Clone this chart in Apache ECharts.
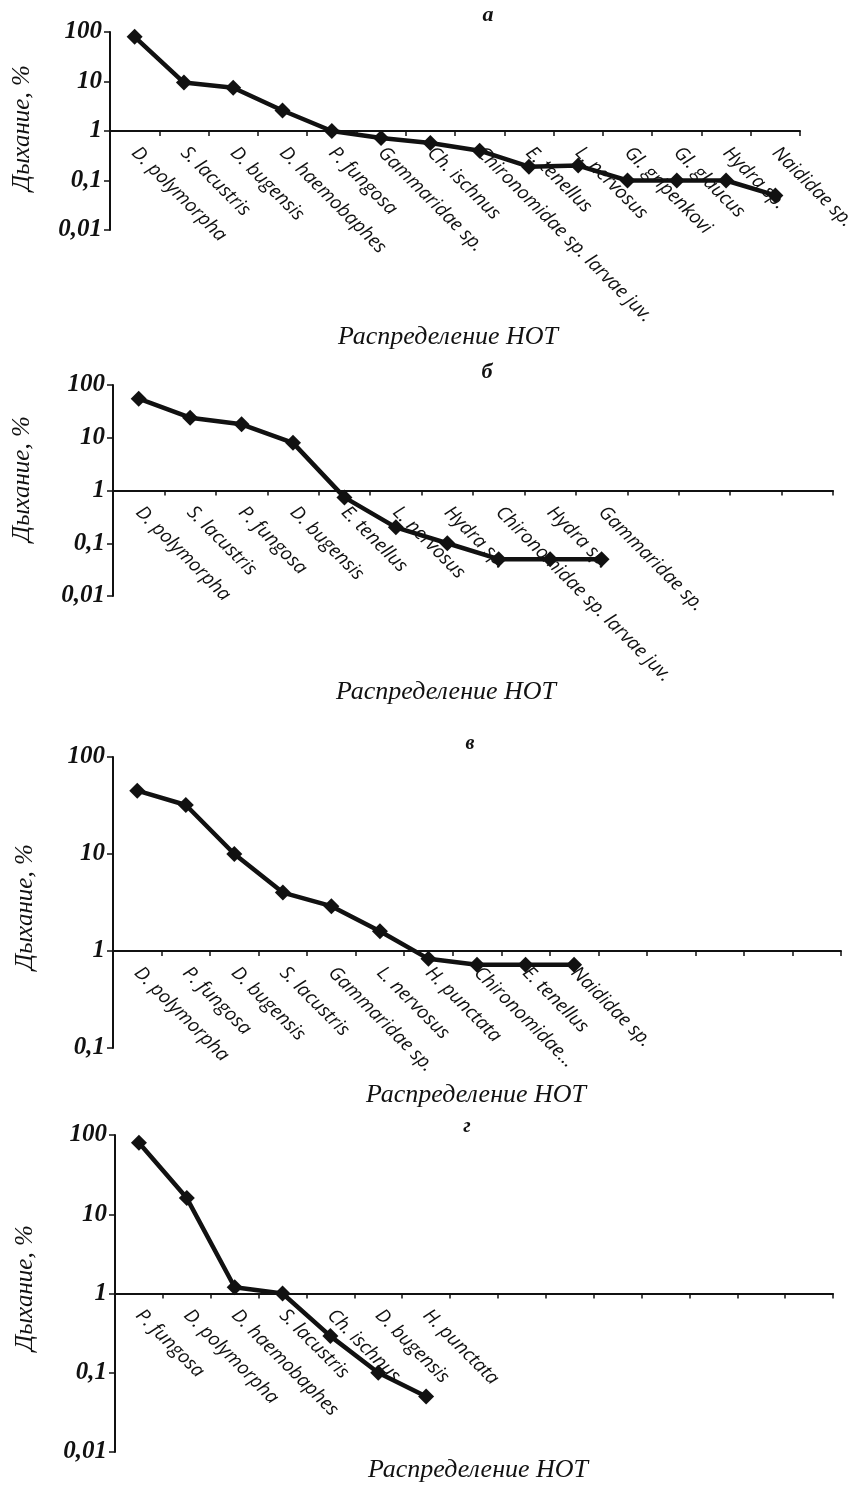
<!DOCTYPE html>
<html>
<head>
<meta charset="utf-8">
<script src="https://cdn.jsdelivr.net/npm/echarts@6/dist/echarts.min.js"></script>
<style>
  html, body { margin: 0; padding: 0; background: #fff; }
  #chart { width: 858px; height: 1488px; }
</style>
</head>
<body>
<div id="chart"></div>
<script>
// а
var catsA = ['D. polymorpha', 'S. lacustris', 'D. bugensis', 'D. haemobaphes', 'P. fungosa', 'Gammaridae sp.',
  'Ch. ischnus', 'Chironomidae sp. larvae juv.', 'E. tenellus', 'L. nervosus', 'Gl. gripenkovi', 'Gl. glaucus',
  'Hydra sp.', 'Naididae sp.']
var valsA = [80, 9.5, 7.5, 2.6, 1, 0.72, 0.57, 0.4, 0.19, 0.2, 0.1, 0.1, 0.1, 0.05]

// б (последние 4 позиции оси пустые)
var catsB = ['D. polymorpha', 'S. lacustris', 'P. fungosa', 'D. bugensis', 'E. tenellus', 'L. nervosus',
  'Hydra sp.', 'Chironomidae sp. larvae juv.', 'Hydra sp.', 'Gammaridae sp.', '', '', '', '']
var valsB = [55, 24, 18, 8, 0.74, 0.2, 0.1, 0.05, 0.05, 0.05]

// в
var catsC = ['D. polymorpha', 'P. fungosa', 'D. bugensis', 'S. lacustris', 'Gammaridae sp.', 'L. nervosus',
  'H. punctata', 'Chironomidae...', 'E. tenellus', 'Naididae sp.', '', '', '', '', '']
var valsC = [45, 32, 10, 4, 2.9, 1.6, 0.83, 0.72, 0.72, 0.72]

// г
var catsD = ['P. fungosa', 'D. polymorpha', 'D. haemobaphes', 'S. lacustris', 'Ch. ischnus', 'D. bugensis',
  'H. punctata', '', '', '', '', '', '', '', '']
var valsD = [80, 16, 1.2, 1, 0.29, 0.1, 0.05]

var yTitle = 'Дыхание, %'
var xTitle = 'Распределение НОТ'

var catFont = '"Open Sans", sans-serif'
var numFont = '"Liberation Serif", serif'

// положение панелей
var panels = [
  { cats: catsA, vals: valsA, left: 110, top: 32, width: 697, height: 198, min: 0.01, max: 100 },
  { cats: catsB, vals: valsB, left: 113, top: 385, width: 720, height: 211, min: 0.01, max: 100 },
  { cats: catsC, vals: valsC, left: 113, top: 757, width: 728, height: 291, min: 0.1, max: 100 },
  { cats: catsD, vals: valsD, left: 115, top: 1135, width: 718, height: 317, min: 0.01, max: 100 }
]

var grids = [], xAxes = [], yAxes = [], series = []

panels.forEach(function (p, i) {
  // ось X проходит через 1
  var frac = Math.log10(p.max) / (Math.log10(p.max) - Math.log10(p.min))
  var offset = -(p.height * (1 - frac))
  grids.push({ left: p.left, top: p.top, width: p.width, height: p.height })
  xAxes.push({
    type: 'category',
    gridIndex: i,
    data: p.cats,
    offset: offset,
    axisLine: { lineStyle: { color: '#111', width: 2 } },
    axisTick: { show: true, length: 5, lineStyle: { color: '#111', width: 1.5 } },
    axisLabel: {
      interval: 0,
      rotate: -45,
      margin: 19,
      color: '#111',
      fontFamily: catFont,
      fontStyle: 'italic',
      fontSize: 19
    },
    splitLine: { show: false }
  })
  yAxes.push({
    type: 'log',
    logBase: 10,
    gridIndex: i,
    min: p.min,
    max: p.max,
    axisLine: { show: true, lineStyle: { color: '#111', width: 2 } },
    axisTick: { show: true, length: 6, lineStyle: { color: '#111', width: 1.5 } },
    axisLabel: {
      color: '#111',
      fontFamily: numFont,
      fontStyle: 'italic',
      fontWeight: 'bold',
      fontSize: 25,
      margin: 8,
      formatter: function (v) { return String(v).replace('.', ',') }
    },
    splitLine: { show: false },
    minorTick: { show: false }
  })
  series.push({
    type: 'line',
    xAxisIndex: i,
    yAxisIndex: i,
    data: p.vals,
    symbol: 'diamond',
    symbolSize: 16,
    itemStyle: { color: '#111' },
    lineStyle: { color: '#111', width: 4.5 },
    animation: false
  })
})

function label(text, x, y, size, rot) {
  return {
    type: 'text',
    x: x,
    y: y,
    rotation: rot || 0,
    style: {
      text: text,
      fill: '#111',
      font: 'italic ' + size + 'px "Liberation Serif", serif',
      align: 'center',
      verticalAlign: 'middle'
    }
  }
}

var graphics = [
  // буквы панелей
  { type: 'text', x: 488, y: 15, style: { text: 'а', fill: '#111', font: 'italic bold 22px "Liberation Serif", serif', align: 'center', verticalAlign: 'middle' } },
  { type: 'text', x: 487, y: 372, style: { text: 'б', fill: '#111', font: 'italic bold 22px "Liberation Serif", serif', align: 'center', verticalAlign: 'middle' } },
  { type: 'text', x: 470, y: 744, style: { text: 'в', fill: '#111', font: 'italic bold 20px "Liberation Serif", serif', align: 'center', verticalAlign: 'middle' } },
  { type: 'text', x: 467, y: 1127, style: { text: 'г', fill: '#111', font: 'italic bold 20px "Liberation Serif", serif', align: 'center', verticalAlign: 'middle' } },
  // подписи осей
  label(xTitle, 448, 337, 26),
  label(xTitle, 446, 692, 26),
  label(xTitle, 476, 1095, 26),
  label(xTitle, 478, 1470, 26),
  label(yTitle, 22, 128, 25, Math.PI / 2),
  label(yTitle, 22, 479, 25, Math.PI / 2),
  label(yTitle, 25, 907, 25, Math.PI / 2),
  label(yTitle, 25, 1288, 25, Math.PI / 2)
]

var myChart = echarts.init(document.getElementById('chart'))
myChart.setOption({
  backgroundColor: '#fff',
  animation: false,
  grid: grids,
  xAxis: xAxes,
  yAxis: yAxes,
  series: series,
  graphic: graphics
})
</script>
</body>
</html>
